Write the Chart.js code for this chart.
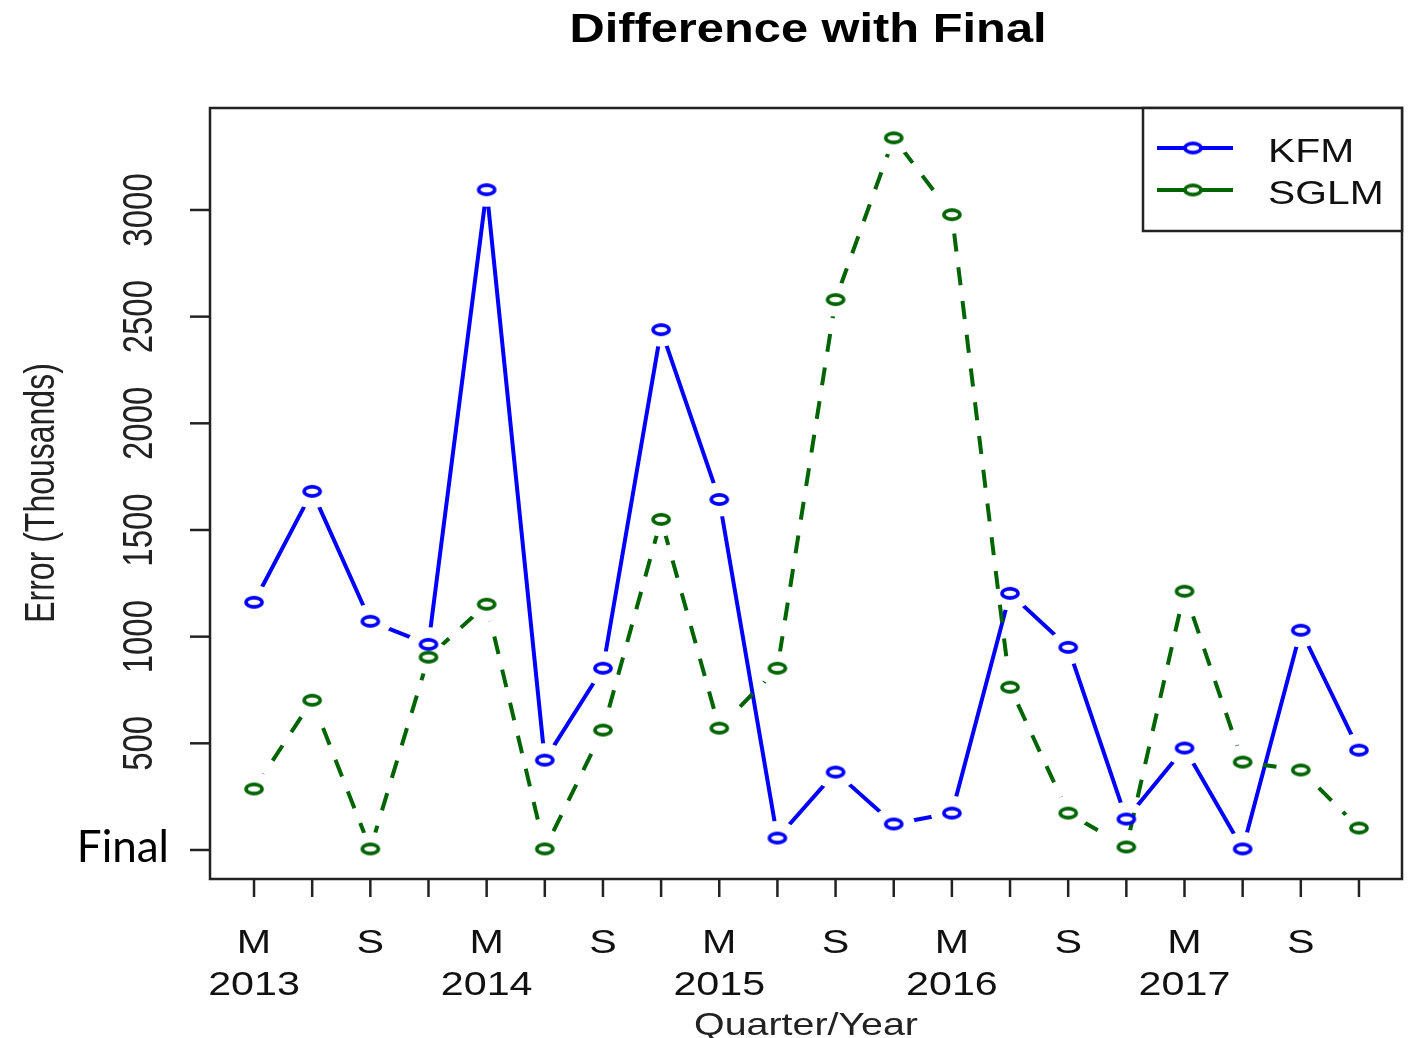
<!DOCTYPE html>
<html>
<head>
<meta charset="utf-8">
<script src="https://cdn.jsdelivr.net/npm/chart.js@4/dist/chart.umd.min.js"></script>
<style>
  html, body { margin: 0; padding: 0; background: #fff; }
  #wrap { width: 1412px; height: 1038px; position: relative; }
</style>
</head>
<body>
<div id="wrap"><canvas id="chart"></canvas></div>
<script>
// Quarterly error vs final value (thousands)
const quarterLabels = ['M', '', 'S', '', 'M', '', 'S', '', 'M', '', 'S', '', 'M', '', 'S', '', 'M', '', 'S', ''];
const yearLabels = ['2013', '', '', '', '2014', '', '', '', '2015', '', '', '', '2016', '', '', '', '2017', '', '', ''];
const kfmValues = [1161, 1681, 1072, 964, 3095, 421, 852, 2439, 1643, 56, 365, 122, 173, 1203, 950, 145, 478, 5, 1030, 468];
const sglmValues = [286, 702, 5, 904, 1152, 5, 562, 1550, 571, 852, 2580, 3338, 2978, 763, 173, 14, 1213, 412, 375, 103];
const yTicks = [0, 500, 1000, 1500, 2000, 2500, 3000];
const yTickLabels = ['Final', '500', '1000', '1500', '2000', '2500', '3000'];

const BLUE = '#0000ff';
const GREEN = '#006400';

// open elliptic marker, like R pch=1 on a stretched image
function makeMarker(color) {
  const c = document.createElement('canvas');
  c.width = 22;
  c.height = 15;
  const g = c.getContext('2d');
  g.beginPath();
  g.ellipse(11, 7.5, 8, 4.6, 0, 0, Math.PI * 2);
  g.fillStyle = '#fff';
  g.fill();
  g.lineWidth = 3.6;
  g.strokeStyle = color;
  g.stroke();
  return c;
}
const markers = { kfm: makeMarker(BLUE), sglm: makeMarker(GREEN) };

function toPoints(values) {
  return values.map((v, i) => ({ x: i, y: v }));
}

// text with horizontal stretch (source image is widened)
function drawText(ctx, text, x, y, font, align, sx, color, rotate) {
  ctx.save();
  ctx.translate(x, y);
  ctx.scale(sx, 1);
  if (rotate) ctx.rotate(-Math.PI / 2);
  ctx.font = font;
  ctx.fillStyle = color || '#000';
  ctx.textAlign = align;
  ctx.textBaseline = 'alphabetic';
  ctx.fillText(text, 0, 0);
  ctx.restore();
}

// leave gaps around points in the connecting lines (R type="b")
const gapPlugin = {
  id: 'gaps',
  beforeDatasetDraw(chart, args) {
    const ds = chart.data.datasets[args.index];
    if (!ds.gapLine) return;
    const ctx = chart.ctx;
    ctx.save();
    ctx.beginPath();
    ctx.rect(0, 0, chart.width, chart.height);
    args.meta.data.forEach(pt => {
      ctx.moveTo(pt.x + 21, pt.y);
      ctx.ellipse(pt.x, pt.y, 21, 17, 0, 0, Math.PI * 2);
    });
    ctx.clip('evenodd');
  },
  afterDatasetDraw(chart, args) {
    const ds = chart.data.datasets[args.index];
    if (!ds.gapLine) return;
    chart.ctx.restore();
  }
};

const framePlugin = {
  id: 'frame',
  afterDraw(chart) {
    const ctx = chart.ctx;
    const a = chart.chartArea;
    const xs = chart.scales.x;
    const ys = chart.scales.y;

    ctx.save();
    ctx.strokeStyle = '#222';
    ctx.lineWidth = 2.5;
    ctx.strokeRect(a.left, a.top, a.right - a.left, a.bottom - a.top);

    // x ticks and labels
    quarterLabels.forEach((q, i) => {
      const px = xs.getPixelForValue(i);
      ctx.beginPath();
      ctx.moveTo(px, a.bottom);
      ctx.lineTo(px, a.bottom + 18);
      ctx.stroke();
      if (q) drawText(ctx, q, px, 953, '33px "Liberation Sans", Arial, sans-serif', 'center', 1.25, '#111');
      if (yearLabels[i]) drawText(ctx, yearLabels[i], px, 995, '33px "Liberation Sans", Arial, sans-serif', 'center', 1.25, '#111');
    });

    // y ticks and labels
    yTicks.forEach((v, i) => {
      const py = ys.getPixelForValue(v);
      ctx.beginPath();
      ctx.moveTo(a.left - 20, py);
      ctx.lineTo(a.left, py);
      ctx.stroke();
      if (i === 0) {
        drawText(ctx, yTickLabels[i], 169, py + 12, '44px Lato, "Open Sans", sans-serif', 'right', 1, '#000');
      } else {
        drawText(ctx, yTickLabels[i], 152, py, '33px "Liberation Sans", Arial, sans-serif', 'center', 1.3, '#222', true);
      }
    });

    // titles
    drawText(ctx, 'Difference with Final', 808, 42, 'bold 40px "Liberation Sans", Arial, sans-serif', 'center', 1.22, '#000');
    drawText(ctx, 'Quarter/Year', 806, 1035, '32px "Liberation Sans", Arial, sans-serif', 'center', 1.23, '#222');
    drawText(ctx, 'Error (Thousands)', 54, 493, '32px "Liberation Sans", Arial, sans-serif', 'center', 1.3, '#222', true);

    // legend
    ctx.fillStyle = '#fff';
    ctx.fillRect(1143, a.top, a.right - 1143, 123);
    ctx.strokeStyle = '#222';
    ctx.lineWidth = 2.5;
    ctx.strokeRect(1143, a.top, a.right - 1143, 123);
    const items = [
      { name: 'KFM', color: BLUE, marker: markers.kfm, y: 148 },
      { name: 'SGLM', color: GREEN, marker: markers.sglm, y: 190 }
    ];
    items.forEach(it => {
      ctx.strokeStyle = it.color;
      ctx.lineWidth = 4;
      ctx.beginPath();
      ctx.moveTo(1157, it.y);
      ctx.lineTo(1233, it.y);
      ctx.stroke();
      ctx.drawImage(it.marker, 1193 - 11, it.y - 7.5);
      drawText(ctx, it.name, 1268, it.y + 14, '34px "Liberation Sans", Arial, sans-serif', 'left', 1.2, '#111');
    });
    ctx.restore();
  }
};

const ctx = document.getElementById('chart').getContext('2d');
new Chart(ctx, {
  type: 'line',
  data: {
    datasets: [
      {
        label: 'KFM',
        data: toPoints(kfmValues),
        borderColor: BLUE,
        borderWidth: 4,
        borderJoinStyle: 'round',
        pointRadius: 0,
        fill: false,
        gapLine: true,
        order: 4
      },
      {
        label: 'SGLM',
        data: toPoints(sglmValues),
        borderColor: GREEN,
        borderWidth: 4,
        borderDash: [18, 16],
        borderJoinStyle: 'round',
        pointRadius: 0,
        fill: false,
        gapLine: true,
        order: 3
      },
      {
        label: 'KFM points',
        data: toPoints(kfmValues),
        showLine: false,
        pointStyle: markers.kfm,
        pointRadius: 8,
        order: 2
      },
      {
        label: 'SGLM points',
        data: toPoints(sglmValues),
        showLine: false,
        pointStyle: markers.sglm,
        pointRadius: 8,
        order: 1
      }
    ]
  },
  options: {
    responsive: true,
    maintainAspectRatio: false,
    animation: false,
    devicePixelRatio: 1,
    layout: { padding: { left: 210, top: 108, right: 10, bottom: 159 } },
    plugins: {
      legend: { display: false },
      title: { display: false },
      tooltip: { enabled: false }
    },
    scales: {
      x: { type: 'linear', min: -0.757, max: 19.74, display: false },
      y: { type: 'linear', min: -136, max: 3478, display: false }
    }
  },
  plugins: [gapPlugin, framePlugin]
});
</script>
</body>
</html>
